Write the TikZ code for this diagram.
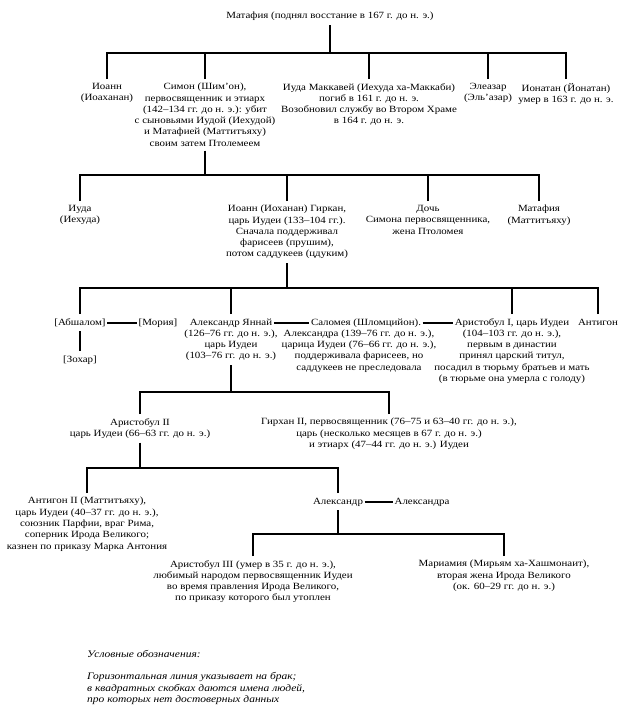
\documentclass[tikz,border=0pt]{standalone}
\usepackage{fontspec}
\setmainfont{Liberation Serif}[FakeStretch=1.15]
\usepackage{tikz}

\begin{document}
\begin{tikzpicture}[x=1pt,y=-1pt,
        person/.style={align=center,anchor=north,inner xsep=1.5pt,inner ysep=4pt,
                font=\fontsize{9.5}{11.3}\selectfont},
        firstline/.style={person,text height=6.8pt,text depth=2.2pt},
        link/.style={line width=2.6pt},
        marriage/.style={line width=1.8pt},
        legend/.style={align=left,anchor=north west,inner sep=0pt,
                font=\fontsize{10}{11.3}\selectfont\itshape}]
        \useasboundingbox (0,0) rectangle (639,724);
        % top
        \node[person] (mattathias) at (330,8) {Матафия (поднял восстание в 167 г. до н. э.)};
        % sons of Mattathias
        \node[person] (ioann) at (107,79) {Иоанн\\(Иоаханан)};
        \node[person] (simon) at (205,79) {Симон (Шим'он),\\первосвященник и этиарх\\(142–134 гг. до н. э.): убит\\с сыновьями Иудой (Иехудой)\\и Матафией (Маттитъяху)\\своим затем Птолемеем};
        \node[person] (judah) at (369,79) {Иуда Маккавей (Иехуда ха-Маккаби)\\погиб в 161 г. до н. э.\\Возобновил службу во Втором Храме\\в 164 г. до н. э.};
        \node[person] (eleazar) at (488,79) {Элеазар\\(Эль'азар)};
        \node[person] (jonathan) at (566,79) {Ионатан (Йонатан)\\умер в 163 г. до н. э.};
        % children of Simon
        \node[person] (judah2) at (80,201) {Иуда\\(Иехуда)};
        \node[person] (hyrcanus) at (287,201) {Иоанн (Иоханан) Гиркан,\\царь Иудеи (133–104 гг.).\\Сначала поддерживал\\фарисеев (прушим),\\потом саддукеев (цдуким)};
        \node[person] (daughter) at (428,201) {Дочь\\Симона первосвященника,\\жена Птоломея};
        \node[person] (mattathias2) at (539,201) {Матафия\\(Маттитъяху)};
        % children of Hyrcanus
        \node[firstline] (absalom) at (80,314) {[Абшалом]};
        \node[firstline] (moriah) at (158,314) {[Мория]};
        \node[firstline] (zohar) at (80,351) {[Зохар]};
        \node[firstline] (jannai) at (231,314) {Александр Яннай};
        \node[person] (jannaiinfo) at (231,325.5) {(126–76 гг. до н. э.),\\царь Иудеи\\(103–76 гг. до н. э.)};
        \node[firstline] (salome) at (366,314) {Саломея (Шломцийон).};
        \node[person] (salomeinfo) at (359,325.5) {Александра (139–76 гг. до н. э.),\\царица Иудеи (76–66 гг. до н. э.),\\поддерживала фарисеев, но\\саддукеев не преследовала};
        \node[firstline] (aristobulus) at (512,314) {Аристобул I, царь Иудеи};
        \node[person] (aristobulusinfo) at (512,325.5) {(104–103 гг. до н. э.),\\первым в династии\\принял царский титул,\\посадил в тюрьму братьев и мать\\(в тюрьме она умерла с голоду)};
        \node[firstline] (antigonus) at (598,314) {Антигон};
        % children of Jannai
        \node[person] (aristobulus2) at (140,414) {Аристобул II\\царь Иудеи (66–63 гг. до н. э.)};
        \node[person] (hyrcanus2) at (389,414) {Гирхан II, первосвященник (76–75 и 63–40 гг. до н. э.),\\царь (несколько месяцев в 67 г. до н. э.)\\и этиарх (47–44 гг. до н. э.) Иудеи};
        % children of Aristobulus II
        \node[person] (antigonus2) at (87,493) {Антигон II (Маттитъяху),\\царь Иудеи (40–37 гг. до н. э.),\\союзник Парфии, враг Рима,\\соперник Ирода Великого;\\казнен по приказу Марка Антония};
        \node[firstline] (alexander) at (338,493) {Александр};
        \node[firstline] (alexandra) at (422,493) {Александра};
        % children of Alexander
        \node[person] (aristobulus3) at (253,556) {Аристобул III (умер в 35 г. до н. э.),\\любимый народом первосвященник Иудеи\\во время правления Ирода Великого,\\по приказу которого был утоплен};
        \node[person] (mariamne) at (504,556) {Мариамия (Мирьям ха-Хашмонаит),\\вторая жена Ирода Великого\\(ок. 60–29 гг. до н. э.)};
        % legend
        \node[legend] (legend) at (87,650) {Условные обозначения:\\[11.3pt]Горизонтальная линия указывает на брак;\\в квадратных скобках даются имена людей,\\про которых нет достоверных данных};

        % junctions
        \coordinate (j1) at (330,53);
        \coordinate (j2) at (205,175);
        \coordinate (j3) at (287,288);
        \coordinate (j4) at (231,392);
        \coordinate (j5) at (140,468);
        \coordinate (j6) at (338,534);

        \draw[link] (mattathias.south) -- (j1);
        \foreach \n in {ioann,simon,judah,eleazar,jonathan}
                \draw[link] (\n.north) |- (j1);
        \draw[link] (simon.south) -- (j2);
        \foreach \n in {judah2,hyrcanus,daughter,mattathias2}
                \draw[link] (\n.north) |- (j2);
        \draw[link] (hyrcanus.south) -- (j3);
        \foreach \n in {absalom,jannai,aristobulus,antigonus}
                \draw[link] (\n.north) |- (j3);
        \draw[link] (absalom.south) -- (zohar.north);
        \draw[marriage] (absalom.east) -- (moriah.west);
        \draw[marriage] (jannai.east) -- (salome.west);
        \draw[marriage] (salome.east) -- (aristobulus.west);
        \draw[link] (jannaiinfo.south) -- (j4);
        \foreach \n in {aristobulus2,hyrcanus2}
                \draw[link] (\n.north) |- (j4);
        \draw[link] (aristobulus2.south) -- (j5);
        \foreach \n in {antigonus2,alexander}
                \draw[link] (\n.north) |- (j5);
        \draw[marriage] (alexander.east) -- (alexandra.west);
        \draw[link] (alexander.south) -- (j6);
        \foreach \n in {aristobulus3,mariamne}
                \draw[link] (\n.north) |- (j6);
\end{tikzpicture}
\end{document}
